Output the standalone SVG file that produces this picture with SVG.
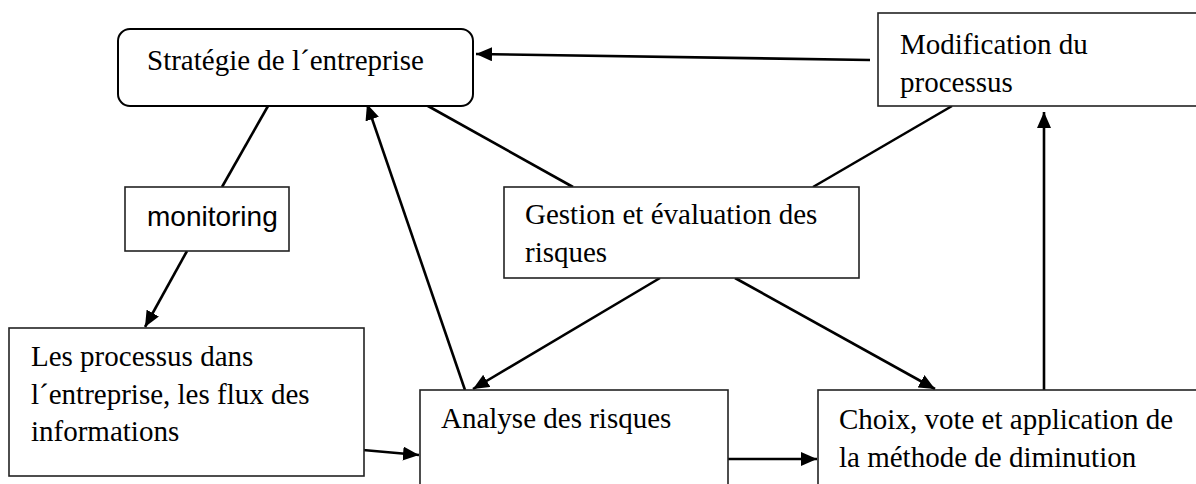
<svg xmlns="http://www.w3.org/2000/svg" width="1196" height="484" viewBox="0 0 1196 484">
  <style>
    .box { fill: #ffffff; stroke: #222222; stroke-width: 1.6; }
    .rbox { fill: #ffffff; stroke: #000000; stroke-width: 2; }
    .t { font-family: "Liberation Serif", "Times New Roman", serif; font-size: 29px; fill: #000000; }
    .s { font-family: "Liberation Sans", Arial, sans-serif; font-size: 28px; fill: #000000; }
    .c { stroke: #000000; stroke-width: 2.6; fill: none; }
  </style>
  <defs>
    <marker id="ah" viewBox="0 0 16 14" refX="16" refY="7" markerWidth="16" markerHeight="14" markerUnits="userSpaceOnUse" orient="auto">
      <path d="M0,0 L16,7 L0,14 Z" fill="#000000"/>
    </marker>
  </defs>
  <rect width="1196" height="484" fill="#ffffff"/>

  <g id="connectors">
    <line class="c" x1="870" y1="60" x2="476" y2="54" marker-end="url(#ah)"/>
    <line class="c" x1="268" y1="106" x2="222" y2="187"/>
    <line class="c" x1="187" y1="251" x2="145" y2="327" marker-end="url(#ah)"/>
    <line class="c" x1="465" y1="390" x2="367" y2="104" marker-end="url(#ah)"/>
    <line class="c" x1="419" y1="101" x2="573" y2="187"/>
    <line class="c" x1="952" y1="106" x2="813" y2="187"/>
    <line class="c" x1="660" y1="278" x2="473" y2="389" marker-end="url(#ah)"/>
    <line class="c" x1="735" y1="278" x2="935" y2="389" marker-end="url(#ah)"/>
    <line class="c" x1="1044" y1="390" x2="1044" y2="112" marker-end="url(#ah)"/>
    <line class="c" x1="363" y1="450" x2="419" y2="455" marker-end="url(#ah)"/>
    <line class="c" x1="728" y1="459" x2="817" y2="459" marker-end="url(#ah)"/>
  </g>

  <g id="strategie">
    <rect class="rbox" x="118" y="29" width="355" height="77" rx="12" ry="12"/>
    <text class="t" x="147" y="70">Stratégie de l´entreprise</text>
  </g>

  <g id="modification">
    <rect class="box" x="878" y="13" width="330" height="93"/>
    <text class="t" x="900" y="54">Modification du</text>
    <text class="t" x="900" y="92">processus</text>
  </g>

  <g id="monitoring">
    <rect class="box" x="125" y="187" width="164" height="64"/>
    <text class="s" x="147" y="226">monitoring</text>
  </g>

  <g id="gestion">
    <rect class="box" x="504" y="187" width="355" height="91"/>
    <text class="t" x="525" y="224">Gestion et évaluation des</text>
    <text class="t" x="525" y="262">risques</text>
  </g>

  <g id="processus">
    <rect class="box" x="9" y="328" width="355" height="148"/>
    <text class="t" x="31" y="366">Les processus dans</text>
    <text class="t" x="31" y="404">l´entreprise, les flux des</text>
    <text class="t" x="31" y="441">informations</text>
  </g>

  <g id="analyse">
    <rect class="box" x="420" y="390" width="308" height="110"/>
    <text class="t" x="441" y="428">Analyse des risques</text>
  </g>

  <g id="choix">
    <rect class="box" x="818" y="390" width="390" height="110"/>
    <text class="t" x="839" y="429">Choix, vote et application de</text>
    <text class="t" x="839" y="467">la méthode de diminution</text>
  </g>
</svg>
